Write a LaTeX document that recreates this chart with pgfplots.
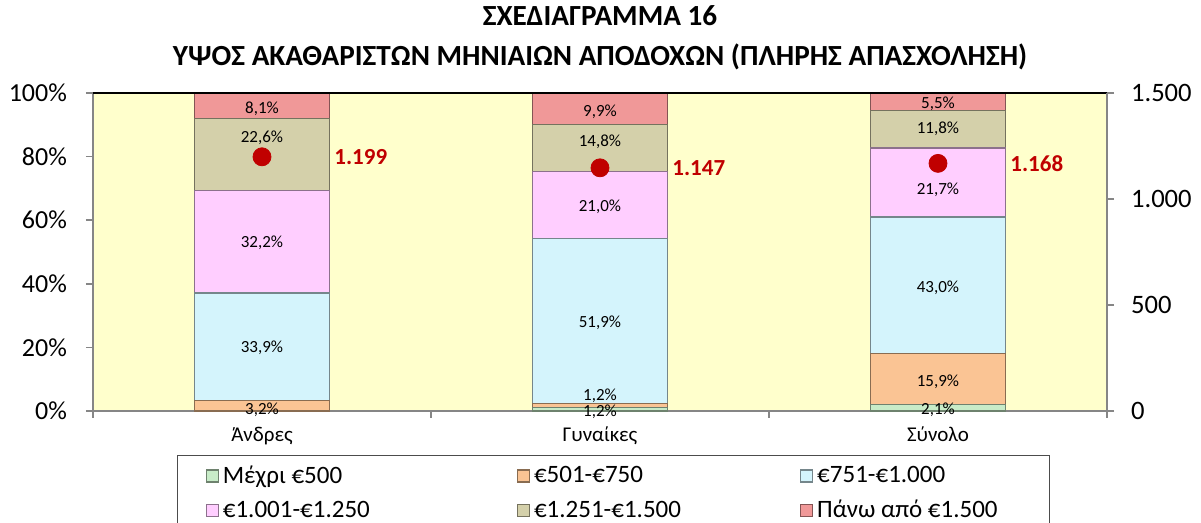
\documentclass[border=0pt]{standalone}
\usepackage{pgfplots}
\usepackage{pgfplotstable}
\pgfplotsset{compat=1.18}
\usepackage{fontspec}
\setmainfont{Carlito}
\definecolor{cGreen}{RGB}{200,236,200}
\definecolor{cOrange}{RGB}{250,196,148}
\definecolor{cBlue}{RGB}{212,244,252}
\definecolor{cPink}{RGB}{255,206,255}
\definecolor{cKhaki}{RGB}{212,208,170}
\definecolor{cRed}{RGB}{240,152,152}
\definecolor{plotbg}{RGB}{255,255,204}
\definecolor{axisgray}{RGB}{134,134,134}
\definecolor{darkred}{RGB}{192,0,0}

\pgfplotstableread{
x g o b p k r
0 0.0 3.2 33.9 32.2 22.6 8.1
1 1.2 1.2 51.9 21.0 14.8 9.9
2 2.1 15.9 43.0 21.7 11.8 5.5
}\shares

\pgfplotstableread{
x y lab
0 0.4 3,2
0 19.8 33,9
0 52.8 32,2
0 85.8 22,6
0 95.0 8,1
1 -0.3 1,2
1 4.9 1,2
1 27.7 51,9
1 64.2 21,0
1 84.6 14,8
1 94.0 9,9
2 0.3 2,1
2 9.2 15,9
2 38.7 43,0
2 69.5 21,7
2 88.7 11,8
2 96.5 5,5
}\labels

\pgfplotsset{
  common/.style={scale only axis, width=507pt, height=159pt,
    xmin=-0.5, xmax=2.5, clip=false,
    tick align=outside, major tick length=3.5pt,
    /pgf/number format/assume math mode=true},
  segment/.style={fill=#1, draw=#1!55!black, line width=0.6pt},
}

\begin{document}
\begin{tikzpicture}
\begin{axis}[common,
  ybar stacked, bar width=0.4,
  ymin=0, ymax=100,
  axis x line*=bottom, axis y line*=left,
  axis line style={axisgray, line width=0.8pt},
  tick style={axisgray, line width=0.8pt},
  axis background/.style={fill=plotbg},
  ytick={0,20,40,60,80,100},
  yticklabel={\pgfmathprintnumber{\tick}\%},
  yticklabel style={font=\fontsize{13}{14}\selectfont, xshift=-6pt},
  xtick={-0.5,0.5,1.5,2.5}, xticklabels={},
  extra x ticks={0,1,2},
  extra x tick labels={Άνδρες,Γυναίκες,Σύνολο},
  extra x tick style={major tick length=0pt, tick label style={font=\fontsize{10.5}{12}\selectfont, yshift=-4.5pt}},
  legend columns=3,
  legend image code/.code={\draw[#1] (0pt,-3pt) rectangle (6pt,3pt);},
  legend style={at={(0.0828,-0.1384)}, anchor=north west, draw=black!70, line width=0.7pt,
    font=\fontsize{12.5}{15}\selectfont, inner xsep=14pt, inner ysep=3pt,
    row sep=3pt, cells={anchor=west}},
  after end axis/.code={\draw[black, line width=1pt] (rel axis cs:0,1) -- (rel axis cs:1,1);},
]
\addplot[segment=cGreen] table[x=x,y=g] {\shares};
\addlegendentry{\makebox[145pt][l]{Μέχρι €500}}
\addplot[segment=cOrange] table[x=x,y=o] {\shares};
\addlegendentry{\makebox[131pt][l]{€501-€750}}
\addplot[segment=cBlue] table[x=x,y=b] {\shares};
\addlegendentry{\makebox[100pt][l]{€751-€1.000}}
\addplot[segment=cPink] table[x=x,y=p] {\shares};
\addlegendentry{\makebox[145pt][l]{€1.001-€1.250}}
\addplot[segment=cKhaki] table[x=x,y=k] {\shares};
\addlegendentry{\makebox[131pt][l]{€1.251-€1.500}}
\addplot[segment=cRed] table[x=x,y=r] {\shares};
\addlegendentry{\makebox[100pt][l]{Πάνω από €1.500}}
\end{axis}

\begin{axis}[common, hide axis, ymin=0, ymax=100]
\addplot[only marks, mark=none, point meta=explicit symbolic,
  nodes near coords={\pgfplotspointmeta\%},
  every node near coord/.append style={anchor=center, font=\fontsize{8.5}{10}\selectfont, inner sep=0pt}]
  table[x=x, y=y, meta=lab] {\labels};
\end{axis}

\begin{axis}[common, ymin=0, ymax=1500,
  axis y line*=right, axis x line=none,
  axis line style={axisgray, line width=0.8pt},
  tick style={axisgray, line width=0.8pt},
  ytick={0,500,1000,1500},
  yticklabel style={font=\fontsize{13.3}{14}\selectfont, xshift=5pt,
    /pgf/number format/.cd, 1000 sep={.}},
]
\addplot[only marks, mark=*, mark size=4.5pt, color=darkred,
  point meta=explicit symbolic, nodes near coords,
  every node near coord/.append style={anchor=west, xshift=36pt, font=\bfseries\fontsize{11.5}{13}\selectfont, text=darkred, inner sep=0pt}]
  coordinates {(0,1199) [1.199] (1,1147) [1.147] (2,1168) [1.168]};
\end{axis}

\node[align=center, font=\bfseries\fontsize{14.6}{20}\selectfont] at (253.5pt,186.5pt)
  {ΣΧΕΔΙΑΓΡΑΜΜΑ 16\\ΥΨΟΣ ΑΚΑΘΑΡΙΣΤΩΝ ΜΗΝΙΑΙΩΝ ΑΠΟΔΟΧΩΝ (ΠΛΗΡΗΣ ΑΠΑΣΧΟΛΗΣΗ)};

\pgfresetboundingbox
\useasboundingbox (-46.5pt,-56pt) rectangle (554pt,205.5pt);
\end{tikzpicture}
\end{document}
